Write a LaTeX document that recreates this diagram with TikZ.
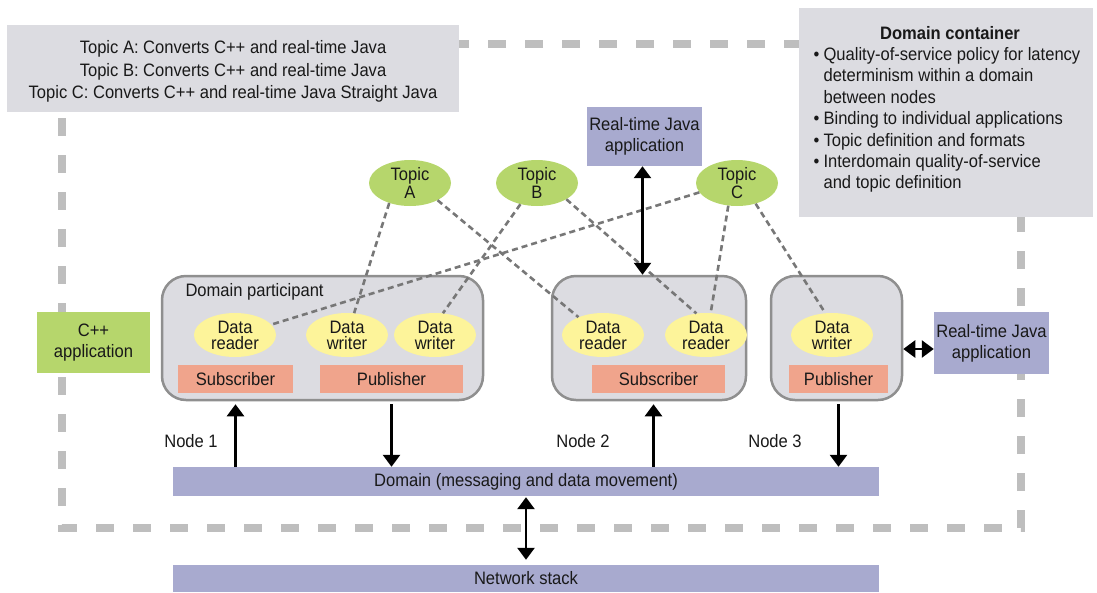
\documentclass[tikz,border=0pt]{standalone}
\usepackage{fontspec}
\setmainfont{Liberation Sans}[FakeStretch=0.92]
\usetikzlibrary{arrows.meta,shapes.geometric}
\definecolor{boxgray}{HTML}{DCDCE1}
\definecolor{cblue}{HTML}{A8AACF}
\definecolor{cgreen}{HTML}{B6D66C}
\definecolor{cyellow}{HTML}{FDF49A}
\definecolor{csalmon}{HTML}{F0A48C}
\definecolor{cdash}{HTML}{BEBEBE}
\definecolor{clink}{HTML}{777777}
\definecolor{cborder}{HTML}{8F8F8F}
\tikzset{
  txt/.style={font=\fontsize{18}{16}\selectfont, text=black!90},
  graybox/.style={fill=boxgray, draw=none, inner sep=0pt},
  bluebox/.style={fill=cblue, draw=none, inner sep=0pt, txt, align=center},
  greenbox/.style={fill=cgreen, draw=none, inner sep=0pt, txt, align=center},
  topic/.style={ellipse, fill=cgreen, draw=none, minimum width=82pt, minimum height=46pt, inner sep=0pt, txt, align=center},
  dataell/.style={ellipse, fill=cyellow, draw=none, minimum width=82pt, minimum height=44pt, inner sep=0pt, txt, align=center},
  part/.style={rectangle, rounded corners=24pt, fill=boxgray, draw=cborder, line width=2.5pt, inner sep=0pt},
  salmonbox/.style={fill=csalmon, draw=none, inner sep=0pt, minimum height=28pt, txt},
  link/.style={draw=clink, line width=2.6pt, dash pattern=on 6pt off 4pt},
  arr/.style={line width=2.6pt, -{Triangle[length=12pt,width=17pt]}},
  darr/.style={line width=2.6pt, {Triangle[length=12pt,width=17pt]}-{Triangle[length=12pt,width=17pt]}},
  container/.style={draw=cdash, line width=8pt, dash pattern=on 18pt off 19pt},
}
\begin{document}
\begin{tikzpicture}[x=1pt,y=-1pt]
\useasboundingbox (0,0) rectangle (1097,592);
% dashed container
\draw[container] (62,44) rectangle (1021,528);
% top-left topics box
\node[graybox, minimum width=452pt, minimum height=87pt] (topics) at (233,68.5) {};
\node[txt, align=center, font=\fontsize{18}{22.5}\selectfont] (topicstxt) at ([yshift=-3pt]topics.center) {Topic A: Converts C++ and real-time Java\\Topic B: Converts C++ and real-time Java\\Topic C: Converts C++ and real-time Java Straight Java};
% domain container box
\node[graybox, minimum width=294pt, minimum height=209pt] (dc) at (946,112.5) {};
\node[txt, font=\fontsize{18}{16}\selectfont\bfseries] (dctitle) at (950,33) {Domain container};
\node[txt, anchor=north west, align=left, font=\fontsize{18}{21.4}\selectfont] (dctxt) at (810,44) {\makebox[10pt][l]{\textbullet}Quality-of-service policy for latency\\
\hspace*{10pt}determinism within a domain\\
\hspace*{10pt}between nodes\\
\makebox[10pt][l]{\textbullet}Binding to individual applications\\
\makebox[10pt][l]{\textbullet}Topic definition and formats\\
\makebox[10pt][l]{\textbullet}Interdomain quality-of-service\\
\hspace*{10pt}and topic definition};
% applications
\node[bluebox, minimum width=115pt, minimum height=59pt] (rtjtop) at (644.5,136.5) {Real-time Java\\[5pt]application};
\node[bluebox, minimum width=115pt, minimum height=62pt] (rtjr) at (991.5,343) {Real-time Java\\[5pt]application};
\node[greenbox, minimum width=113pt, minimum height=61pt] (cpp) at (93.5,342.5) {C++\\[5pt]application};
% topics
\node[topic] (ta) at (410,183) {Topic\\A};
\node[topic] (tb) at (537,183) {Topic\\B};
\node[topic] (tc) at (737,183) {Topic\\C};
% participants
\node[part, minimum width=321pt, minimum height=124pt] (dp1) at (322.5,338) {};
\node[part, minimum width=194pt, minimum height=124pt] (dp2) at (649,338) {};
\node[part, minimum width=131pt, minimum height=124pt] (dp3) at (836.5,338) {};
\node[txt, anchor=west] (dplabel) at (182,292) {Domain participant};
\node[salmonbox, minimum width=115pt] (sub1) at (235.5,379) {Subscriber};
\node[salmonbox, minimum width=143pt] (pub1) at (391.5,379) {Publisher};
\node[salmonbox, minimum width=133pt] (sub2) at (658.5,379) {Subscriber};
\node[salmonbox, minimum width=99pt] (pub3) at (838.5,379) {Publisher};
% data ellipses
\node[dataell] (dr1) at (235,335) {Data\\reader};
\node[dataell] (dw1) at (347,335) {Data\\writer};
\node[dataell] (dw2) at (435,335) {Data\\writer};
\node[dataell] (dr2a) at (603,335) {Data\\reader};
\node[dataell] (dr2b) at (706,335) {Data\\reader};
\node[dataell] (dw3) at (832,335) {Data\\writer};
% dashed links
\draw[link] (ta.224) -- (dw1.72);
\draw[link] (ta.328) -- (dr2a.144);
\draw[link] (tb.232) -- (dw2.70);
\draw[link] (tb.331) -- (dr2b.114);
\draw[link] (tc.194) -- (dr1.16);
\draw[link] (tc.249) -- (dr2b.78);
\draw[link] (tc.312) -- (dw3.107);
% bars
\node[bluebox, minimum width=706pt, minimum height=29pt] (dom) at (526,481.5) {Domain (messaging and data movement)};
\node[bluebox, minimum width=706pt, minimum height=27pt] (net) at (526,578.5) {Network stack};
% node labels
\node[txt] (n1) at (191,441) {Node 1};
\node[txt] (n2) at (583,441) {Node 2};
\node[txt] (n3) at (775,441) {Node 3};
% arrows
\draw[arr] (dom.north -| sub1.south) -- ([yshift=-3pt]sub1.south |- dp1.south);
\draw[arr] ([yshift=-3pt]pub1.south |- dp1.south) -- (dom.north -| pub1.south);
\draw[arr] ([xshift=-5pt]dom.north -| sub2.south) -- ([xshift=-5pt,yshift=-3pt]sub2.south |- dp2.south);
\draw[arr] ([yshift=-3pt]pub3.south |- dp3.south) -- (dom.north -| pub3.south);
\draw[darr] ([yshift=-1pt]dom.south) -- ([yshift=5pt]net.north);
\draw[darr] ([xshift=-2pt]rtjtop.south) -- ([xshift=-2pt]rtjtop.south |- dp2.north);
\draw[darr] ([yshift=-6pt]rtjr.west) -- ([yshift=-6pt]rtjr.west -| dp3.east);
\end{tikzpicture}
\end{document}
